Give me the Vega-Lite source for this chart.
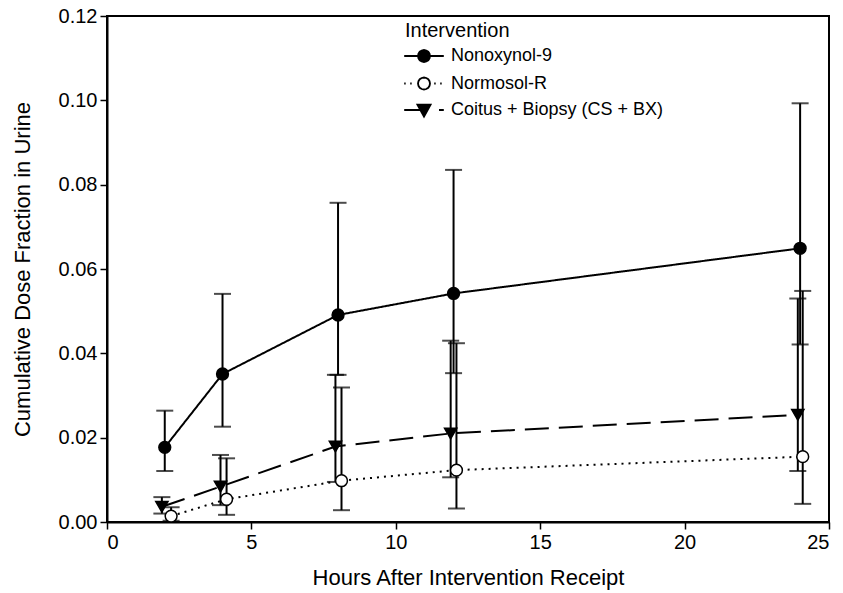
{
  "$schema": "https://vega.github.io/schema/vega-lite/v6.json",
  "width": 722,
  "height": 506,
  "autosize": "none",
  "padding": {"left": 107, "top": 16, "right": 14, "bottom": 71},
  "background": "white",
  "config": {
    "font": "Liberation Sans",
    "view": {"stroke": "black", "strokeWidth": 2},
    "axis": {
      "grid": false,
      "domainColor": "black",
      "domainWidth": 2,
      "tickColor": "black",
      "tickWidth": 1.5,
      "tickSize": 7,
      "labelColor": "black",
      "labelFontSize": 20,
      "labelPadding": 3,
      "titleColor": "black",
      "titleFontSize": 22,
      "titleFontWeight": "normal"
    },
    "legend": {
      "title": "Intervention",
      "orient": "none",
      "legendX": 298,
      "legendY": 5,
      "padding": 0,
      "titleFontSize": 20,
      "titleFontWeight": "normal",
      "titleColor": "black",
      "titlePadding": 6,
      "labelFontSize": 18,
      "labelColor": "black",
      "labelLimit": 0,
      "symbolSize": 144,
      "symbolStrokeColor": "black",
      "symbolStrokeWidth": 1.8,
      "symbolOpacity": 1,
      "symbolOffset": 10,
      "labelOffset": 18,
      "rowPadding": 7.5
    }
  },
  "data": {
    "values": [
      {"intervention": "Nonoxynol-9", "hours": 2, "mean": 0.0177, "lo": 0.0121, "hi": 0.0264},
      {"intervention": "Nonoxynol-9", "hours": 4, "mean": 0.0351, "lo": 0.0226, "hi": 0.0541},
      {"intervention": "Nonoxynol-9", "hours": 8, "mean": 0.0491, "lo": 0.0349, "hi": 0.0757},
      {"intervention": "Nonoxynol-9", "hours": 12, "mean": 0.0542, "lo": 0.0353, "hi": 0.0835},
      {"intervention": "Nonoxynol-9", "hours": 24, "mean": 0.0649, "lo": 0.0421, "hi": 0.0993},
      {"intervention": "Normosol-R", "hours": 2.22, "mean": 0.0014, "lo": 0.0003, "hi": 0.0035},
      {"intervention": "Normosol-R", "hours": 4.14, "mean": 0.0054, "lo": 0.0017, "hi": 0.0151},
      {"intervention": "Normosol-R", "hours": 8.12, "mean": 0.0098, "lo": 0.0028, "hi": 0.0319},
      {"intervention": "Normosol-R", "hours": 12.1, "mean": 0.0123, "lo": 0.0032, "hi": 0.0424},
      {"intervention": "Normosol-R", "hours": 24.09, "mean": 0.0155, "lo": 0.0043, "hi": 0.0548},
      {"intervention": "Coitus + Biopsy (CS + BX)", "hours": 1.9, "mean": 0.0036, "lo": 0.002, "hi": 0.0059},
      {"intervention": "Coitus + Biopsy (CS + BX)", "hours": 3.93, "mean": 0.0084, "lo": 0.004, "hi": 0.0159},
      {"intervention": "Coitus + Biopsy (CS + BX)", "hours": 7.91, "mean": 0.0179, "lo": 0.0095, "hi": 0.0349},
      {"intervention": "Coitus + Biopsy (CS + BX)", "hours": 11.9, "mean": 0.021, "lo": 0.0106, "hi": 0.043},
      {"intervention": "Coitus + Biopsy (CS + BX)", "hours": 23.92, "mean": 0.0254, "lo": 0.0121, "hi": 0.053}
    ]
  },
  "encoding": {
    "x": {
      "field": "hours", "type": "quantitative",
      "scale": {"domain": [0, 25], "nice": false, "zero": false},
      "axis": {"values": [0, 5, 10, 15, 20, 25], "title": "Hours After Intervention Receipt", "titlePadding": 15}
    }
  },
  "layer": [
    {
      "mark": {"type": "rule", "color": "black", "strokeWidth": 2},
      "encoding": {
        "y": {"field": "lo", "type": "quantitative"},
        "y2": {"field": "hi"}
      }
    },
    {
      "mark": {"type": "tick", "orient": "horizontal", "size": 17, "thickness": 2, "color": "black"},
      "encoding": {"y": {"field": "lo", "type": "quantitative"}}
    },
    {
      "mark": {"type": "tick", "orient": "horizontal", "size": 17, "thickness": 2, "color": "black"},
      "encoding": {"y": {"field": "hi", "type": "quantitative"}}
    },
    {
      "mark": {"type": "line", "color": "black", "strokeWidth": 2},
      "encoding": {
        "y": {"field": "mean", "type": "quantitative"},
        "detail": {"field": "intervention"},
        "strokeDash": {
          "field": "intervention", "type": "nominal",
          "scale": {"domain": ["Coitus + Biopsy (CS + BX)", "Nonoxynol-9", "Normosol-R"], "range": [[24, 10], [1, 0], [2, 5]]},
          "legend": null
        }
      }
    },
    {
      "transform": [{"filter": "datum.intervention === 'Nonoxynol-9'"}],
      "mark": {"type": "point", "shape": "circle", "filled": true, "fill": "black", "stroke": "black", "strokeWidth": 1.5, "size": 140, "opacity": 1},
      "encoding": {
        "y": {
          "field": "mean", "type": "quantitative",
          "scale": {"domain": [0, 0.12], "nice": false},
          "axis": {"values": [0, 0.02, 0.04, 0.06, 0.08, 0.1, 0.12], "format": ".2f", "title": "Cumulative Dose Fraction in Urine", "titlePadding": 24}
        }
      }
    },
    {
      "transform": [{"filter": "datum.intervention === 'Normosol-R'"}],
      "mark": {"type": "point", "shape": "circle", "filled": true, "fill": "white", "stroke": "black", "strokeWidth": 1.5, "size": 140, "opacity": 1},
      "encoding": {"y": {"field": "mean", "type": "quantitative"}}
    },
    {
      "transform": [{"filter": "datum.intervention === 'Coitus + Biopsy (CS + BX)'"}],
      "mark": {"type": "point", "shape": "triangle-down", "filled": true, "fill": "black", "stroke": "black", "strokeWidth": 1.5, "size": 150, "opacity": 1},
      "encoding": {"y": {"field": "mean", "type": "quantitative"}}
    },
    {
      "transform": [{"filter": "datum.hours < 0"}],
      "mark": {"type": "point", "filled": true, "strokeWidth": 1.8, "size": 144, "opacity": 1},
      "encoding": {
        "y": {"field": "mean", "type": "quantitative"},
        "fill": {
          "field": "intervention", "type": "nominal",
          "scale": {"domain": ["Nonoxynol-9", "Normosol-R", "Coitus + Biopsy (CS + BX)"], "range": ["black", "white", "black"]},
          "legend": {"title": "Intervention"}
        },
        "stroke": {
          "field": "intervention", "type": "nominal",
          "scale": {"domain": ["Nonoxynol-9", "Normosol-R", "Coitus + Biopsy (CS + BX)"], "range": ["black", "black", "black"]},
          "legend": {"title": "Intervention"}
        },
        "shape": {
          "field": "intervention", "type": "nominal",
          "scale": {
            "domain": ["Nonoxynol-9", "Normosol-R", "Coitus + Biopsy (CS + BX)"],
            "range": [
              "M-3.3,0H3.3M1,0L0.92,0.38L0.71,0.71L0.38,0.92L0,1L-0.38,0.92L-0.71,0.71L-0.92,0.38L-1,0L-0.92,-0.38L-0.71,-0.71L-0.38,-0.92L0,-1L0.38,-0.92L0.71,-0.71L0.92,-0.38Z",
              "M-3.3,0h0.25M-2.3,0h0.25M1.7,0h0.25M2.7,0h0.25M1,0L0.92,0.38L0.71,0.71L0.38,0.92L0,1L-0.38,0.92L-0.71,0.71L-0.92,0.38L-1,0L-0.92,-0.38L-0.71,-0.71L-0.38,-0.92L0,-1L0.38,-0.92L0.71,-0.71L0.92,-0.38Z",
              "M-3.3,0H-0.6M2.5,0H3.3M-1.1,-0.9L1.1,-0.9L0,1.1Z"
            ]
          },
          "legend": {"title": "Intervention"}
        }
      }
    }
  ]
}
